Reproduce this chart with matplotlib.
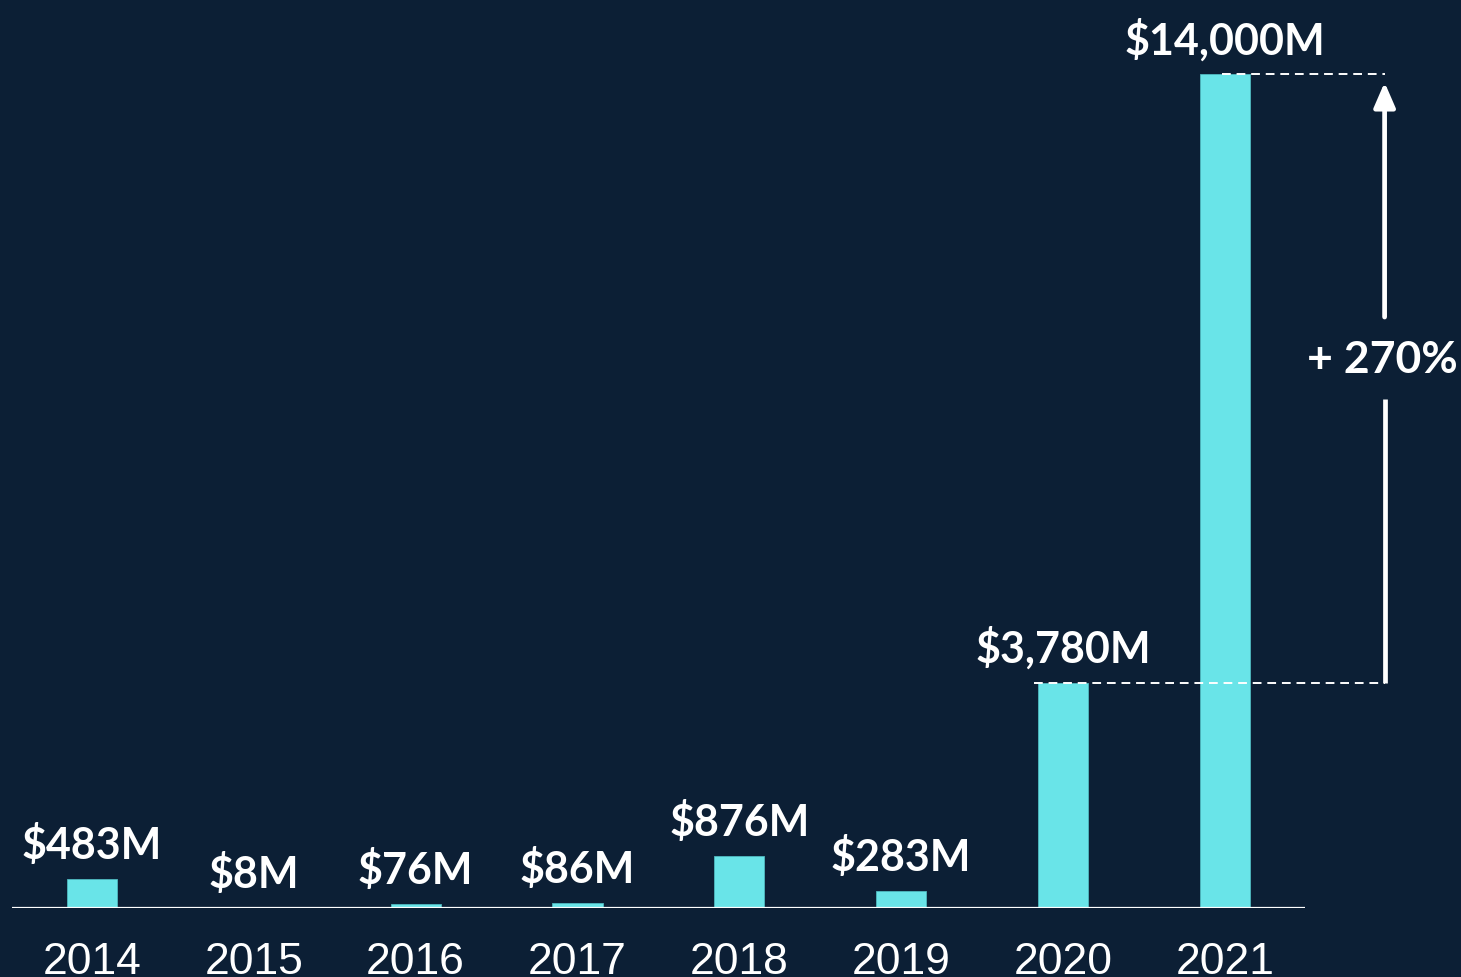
import numpy as np
import matplotlib.pyplot as plt

years = ['2014', '2015', '2016', '2017', '2018', '2019', '2020', '2021']
funding = [483, 8, 76, 86, 876, 283, 3780, 14000]
labels = ['$483M', '$8M', '$76M', '$86M', '$876M', '$283M', '$3,780M', '$14,000M']
growth_label = '+ 270%'

bg = '#0c1f35'
bar_color = '#69e4e8'

fig = plt.figure(figsize=(14.61, 9.78), dpi=100, facecolor=bg)
ax = fig.add_axes([0.0082, 0.0705, 0.885, 0.9295])
ax.set_facecolor(bg)

x = np.arange(len(years))
ax.bar(x, funding, width=0.31, color=bar_color, edgecolor='#4fb8c0', linewidth=0.6, zorder=2)

for xi, v, lab in zip(x, funding, labels):
    ax.annotate(lab, (xi, v), xytext=(0, 15), textcoords='offset points',
                ha='center', va='baseline', color='white', fontsize=31,
                family='Lato', fontweight='bold')

ax.set_xlim(-0.494, 7.494)
ax.set_ylim(0, 15260)

# baseline
ax.axhline(0, color='white', lw=1.6, zorder=3)
for s in ax.spines.values():
    s.set_visible(False)

ax.set_xticks(x)
ax.set_xticklabels(years, fontsize=32, family='Liberation Sans', color='white')
ax.tick_params(axis='x', length=0, pad=24)
ax.set_yticks([])

# growth annotation
xa = 7.986
ax.plot([6.98, xa], [funding[7], funding[7]], color='white', lw=1.4, ls=(0, (4.5, 3)), clip_on=False, zorder=3)
ax.plot([5.82, xa + 0.005], [funding[6], funding[6]], color='white', lw=1.4, ls=(0, (4.5, 3)), clip_on=False, zorder=3)
ax.plot([xa, xa], [funding[6], 8544], color='white', lw=3.4, clip_on=False, solid_capstyle='butt')
ax.annotate('', xy=(xa, 13860), xytext=(xa, 9921),
            arrowprops=dict(arrowstyle='-|>,head_length=1.5,head_width=0.65', color='white', lw=3.4,
                            shrinkA=0, shrinkB=0), annotation_clip=False)
ax.text(7.97, 9216, growth_label, ha='center', va='center', color='white', fontsize=32,
        family='Lato', fontweight='bold', clip_on=False)

fig.savefig('out.png', dpi=100, facecolor=bg)
